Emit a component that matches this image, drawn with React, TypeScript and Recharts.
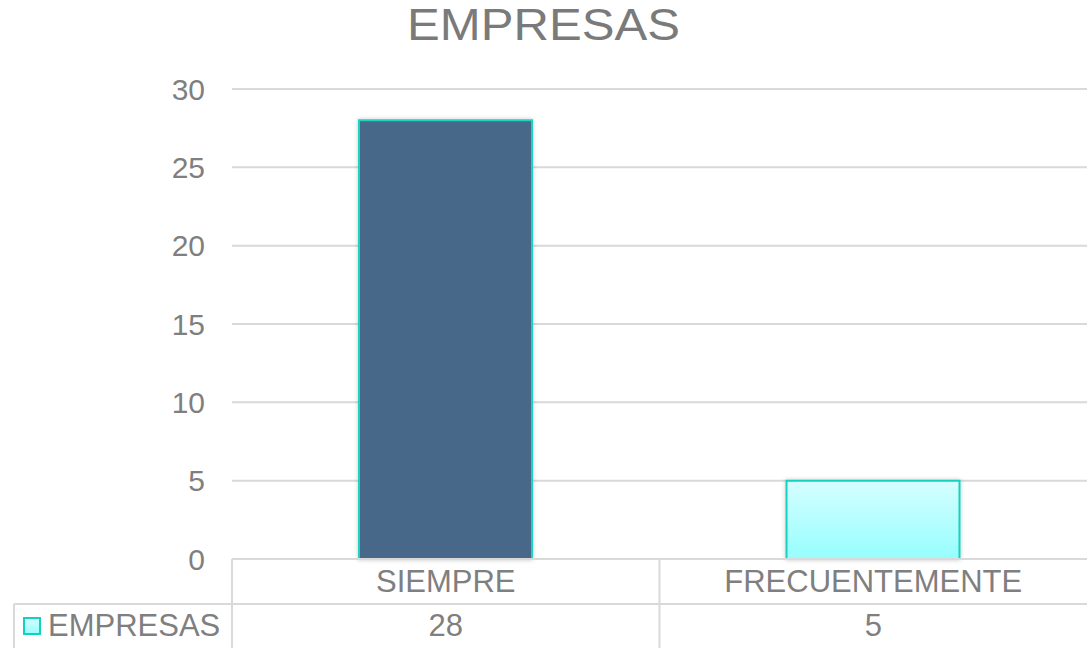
import React from 'react';
import { BarChart, Bar, XAxis, YAxis, CartesianGrid, Cell } from 'recharts';

const categories = ['SIEMPRE', 'FRECUENTEMENTE'];
const values = [28, 5];
const yTicks = [0, 5, 10, 15, 20, 25, 30];
const seriesName = 'EMPRESAS';
const title = 'EMPRESAS';

const data = categories.map((name, i) => ({ name, value: values[i] }));

const FONT = '"Liberation Sans", Arial, sans-serif';
const TEXT = '#7f7f7f';
const LINE = '#d9d9d9';

const TableTick = (props: any) => {
  const { x, y, payload } = props;
  const i = payload?.index ?? props.index ?? 0;
  const half = payload?.offset && payload.offset > 0 ? payload.offset : 855 / categories.length / 2;
  const left = x - half;
  const right = x + half;
  return (
    <g>
      <line x1={left} y1={y} x2={left} y2={y + 89} stroke={LINE} strokeWidth={2} />
      <line x1={left} y1={y + 45} x2={right} y2={y + 45} stroke={LINE} strokeWidth={2} />
      <text x={x} y={y + 33} textAnchor="middle" fill={TEXT} fontSize={31} fontFamily={FONT}>
        {payload.value}
      </text>
      <text x={x} y={y + 77} textAnchor="middle" fill={TEXT} fontSize={31} fontFamily={FONT}>
        {values[i]}
      </text>
      {i === 0 && (
        <g>
          <line x1={14} y1={y + 45} x2={left} y2={y + 45} stroke={LINE} strokeWidth={2} />
          <line x1={14} y1={y + 45} x2={14} y2={y + 89} stroke={LINE} strokeWidth={2} />
          <rect x={24} y={y + 59} width={16} height={16} fill="url(#lightGrad)" stroke="#12d1bd" strokeWidth={2} />
          <text x={48} y={y + 77} textAnchor="start" fill={TEXT} fontSize={31} fontFamily={FONT}>
            {seriesName}
          </text>
        </g>
      )}
    </g>
  );
};

export default function App() {
  return (
    <div style={{ position: 'absolute', left: 0, top: 0, width: 1087, height: 648, background: '#fff', fontFamily: FONT }}>
      <svg width={0} height={0} style={{ position: 'absolute' }}>
        <defs>
          <linearGradient id="lightGrad" x1="0" y1="0" x2="0" y2="1">
            <stop offset="0%" stopColor="#d6feff" />
            <stop offset="100%" stopColor="#96fefe" />
          </linearGradient>
          <filter id="barShadow" x="-10%" y="-10%" width="120%" height="120%">
            <feDropShadow dx="0" dy="0" stdDeviation="2" floodColor="#000" floodOpacity="0.22" />
          </filter>
        </defs>
      </svg>
      <BarChart
        width={1087}
        height={648}
        data={data}
        margin={{ top: 89, right: 0, bottom: 0, left: 0 }}
      >
        <CartesianGrid vertical={false} stroke={LINE} strokeWidth={2} />
        <XAxis
          dataKey="name"
          height={89}
          axisLine={{ stroke: LINE, strokeWidth: 2 }}
          tickLine={false}
          tickSize={0}
          tickMargin={0}
          interval={0}
          tick={<TableTick />}
        />
        <YAxis
          width={232}
          domain={[0, 30]}
          ticks={yTicks}
          axisLine={false}
          tickLine={false}
          tickSize={0}
          tickMargin={27}
          interval={0}
          tick={{ fill: TEXT, fontSize: 30, fontFamily: FONT }}
        />
        <Bar dataKey="value" barSize={173} isAnimationActive={false} strokeWidth={2} filter="url(#barShadow)">
          {data.map((d, i) => (
            <Cell
              key={d.name}
              fill={i === 0 ? '#466889' : 'url(#lightGrad)'}
              stroke={i === 0 ? '#1ad3bf' : '#12d1bd'}
            />
          ))}
        </Bar>
      </BarChart>
      <svg
        width={1087}
        height={60}
        style={{ position: 'absolute', left: 0, top: 0, pointerEvents: 'none' }}
      >
        <text
          x={543.5}
          y={40}
          textAnchor="middle"
          fontSize={44}
          fontFamily={FONT}
          fill="#7a7a7a"
          textLength={273}
          lengthAdjust="spacingAndGlyphs"
        >
          {title}
        </text>
      </svg>
    </div>
  );
}
